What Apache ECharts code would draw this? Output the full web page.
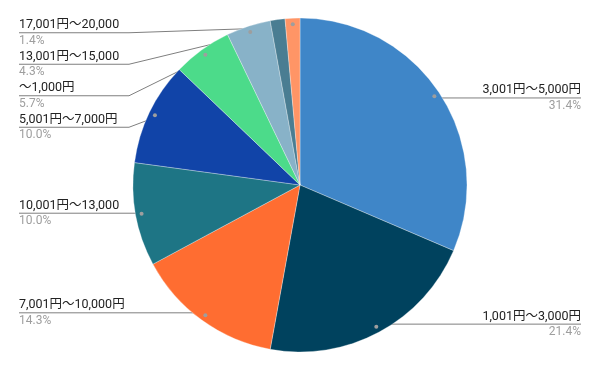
<!DOCTYPE html>
<html><head><meta charset="utf-8">
<script src="https://cdn.jsdelivr.net/npm/echarts@6/dist/echarts.min.js"></script>
<style>html,body{margin:0;padding:0;background:#fff;width:600px;height:371px;overflow:hidden;position:relative}#c{position:absolute;left:0;top:17px;width:600px;height:354px}</style>
</head><body><div id="c"></div>
<script>
const categories = ['3,001円～5,000円','1,001円～3,000円','7,001円～10,000円','10,001円～13,000','5,001円～7,000円','～1,000円','13,001円～15,000','15,001円～17,000','17,001円～20,000'];
const counts = [22, 15, 10, 7, 7, 4, 3, 1, 1];
const showLabel = [true, true, true, true, true, true, true, false, true];
const colors = ['#3f86c8','#00425e','#ff6d31','#1e7585','#1144a8','#4cdb8a','#88b2c8','#4a7d92','#ff9566'];

const total = counts.reduce((a, b) => a + b, 0);
const pieData = categories.map((name, i) => ({ name, value: counts[i], itemStyle: { color: colors[i] } }));
const labelData = categories.map((name, i) => ({
  name, value: counts[i],
  label: { show: showLabel[i] },
  labelLine: { show: showLabel[i] }
}));

const FONT = 'Roboto, "Noto Sans CJK JP", sans-serif';
const CENTER = ['50%', 168];
const R = 167;
const DOT_R = 158;
const LH_NAME = 16, LH_PCT = 15.5;
const LABEL_H = LH_NAME + LH_PCT;
const chart = echarts.init(document.getElementById('c'), null, { renderer: 'canvas' });

// label stacking: first pass records natural label positions, second pass stacks them
const natural = {};
let stacked = null;
function labelLayoutFn(params) {
  const pts = params.labelLinePoints;
  if (!pts) return {};
  const cx = chart.getWidth() / 2;
  const start = pts[0];
  const r = params.labelRect;
  const leftSide = r.x + r.width / 2 < cx;
  natural[params.dataIndex] = { y: pts[pts.length - 1][1], left: leftSide };
  const ly = stacked ? stacked[params.dataIndex] : pts[pts.length - 1][1];
  const outerX = leftSide ? r.x : r.x + r.width;
  const elbowX = leftSide ? Math.min(start[0], outerX + 110) : Math.max(start[0], outerX - 110);
  const res = { labelLinePoints: [start, [elbowX, ly], [outerX, ly]] };
  if (stacked) res.y = ly;
  return res;
}
function computeStack() {
  const out = {};
  [true, false].forEach(side => {
    const ids = Object.keys(natural).filter(k => natural[k].left === side)
      .sort((a, b) => natural[a].y - natural[b].y);
    let prevBottom = 0;
    ids.forEach(k => {
      const y = Math.max(natural[k].y, prevBottom + LABEL_H / 2);
      out[k] = y;
      prevBottom = y + LABEL_H / 2;
    });
  });
  return out;
}

const option = {
  animation: false,
  series: [{
    type: 'pie',
    center: CENTER,
    radius: [0, R],
    startAngle: 90,
    clockwise: true,
    data: pieData,
    itemStyle: { borderColor: 'rgba(255,255,255,0.6)', borderWidth: 0.5 },
    label: { show: false },
    labelLine: { show: false },
    emphasis: { disabled: true }
  }, {
    type: 'pie',
    center: CENTER,
    radius: [0, DOT_R],
    startAngle: 90,
    clockwise: true,
    silent: true,
    data: labelData,
    itemStyle: { color: 'rgba(0,0,0,0)' },
    avoidLabelOverlap: false,
    label: {
      show: true,
      position: 'outer',
      alignTo: 'edge',
      edgeDistance: 19,
      fontFamily: FONT,
      formatter: p => '{n|' + p.name + '}\n{p|' + (p.value / total * 100).toFixed(1) + '%}',
      rich: {
        n: { fontFamily: FONT, fontSize: 12.5, color: '#222222', lineHeight: LH_NAME },
        p: { fontFamily: FONT, fontSize: 12, color: '#9e9e9e', lineHeight: LH_PCT }
      }
    },
    labelLine: { show: true, length: 0, length2: 10, lineStyle: { color: '#7f7f7f', width: 1 } },
    labelLayout: labelLayoutFn,
    emphasis: { disabled: true }
  }, {
    type: 'pie',
    center: CENTER,
    radius: [DOT_R - 4, DOT_R + 4],
    startAngle: 90,
    clockwise: true,
    silent: true,
    data: labelData.map(d => ({ name: d.name, value: d.value, label: d.label })),
    itemStyle: { color: 'rgba(0,0,0,0)' },
    label: {
      show: true,
      position: 'inside',
      formatter: '{d| }',
      rich: { d: { width: 4, height: 4, borderRadius: 2, backgroundColor: '#9e9e9e', fontSize: 1, lineHeight: 4 } }
    },
    labelLine: { show: false },
    emphasis: { disabled: true }
  }]
};
chart.setOption(option);
stacked = computeStack();
chart.setOption(option, true);
</script></body></html>
